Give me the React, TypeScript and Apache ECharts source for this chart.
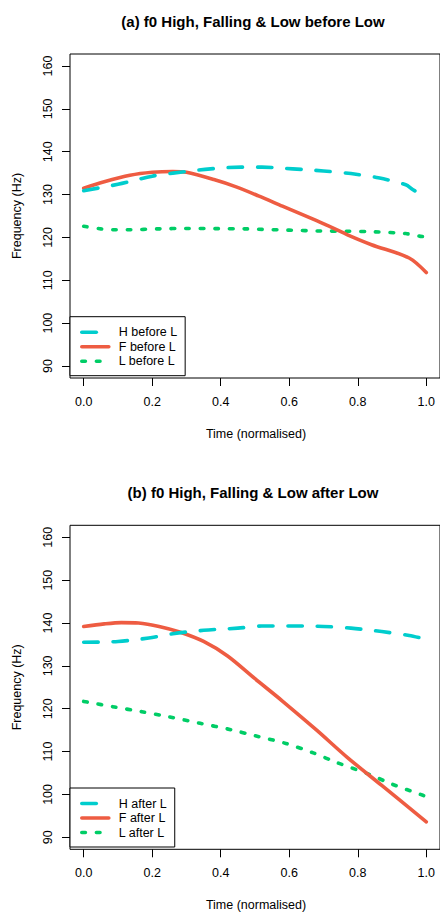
import React, { useEffect, useRef } from "react";
import * as echarts from "echarts";

// ---- data ----
const xTickValues = [0, 0.2, 0.4, 0.6, 0.8, 1.0];
const yTickValues = [90, 100, 110, 120, 130, 140, 150, 160];

const panelTitles = [
  "(a) f0 High, Falling & Low before Low",
  "(b) f0 High, Falling & Low after Low",
];
const xAxisTitle = "Time (normalised)";
const yAxisTitle = "Frequency (Hz)";

const namesBefore = ["H before L", "F before L", "L before L"];
const namesAfter = ["H after L", "F after L", "L after L"];

const hBeforeL = [
  [0, 130.9], [0.1, 132.4], [0.2, 134.3], [0.26, 135.0], [0.37, 136.0], [0.46, 136.4],
  [0.52, 136.4], [0.61, 136.0], [0.7, 135.5], [0.78, 134.9], [0.86, 133.9], [0.94, 132.3],
  [0.96, 131.2], [1.0, 129.3],
];
const fBeforeL = [
  [0, 131.5], [0.06, 133.0], [0.135, 134.5], [0.2, 135.2], [0.26, 135.4], [0.3, 135.2],
  [0.38, 133.5], [0.445, 131.8], [0.51, 129.7], [0.58, 127.3], [0.68, 123.9],
  [0.73, 122.1], [0.77, 120.6], [0.84, 118.3], [0.95, 115.2], [1.0, 111.8],
];
const lBeforeL = [
  [0, 122.6], [0.05, 122.0], [0.09, 121.8], [0.13, 121.8], [0.22, 122.0], [0.3, 122.1],
  [0.39, 122.05], [0.47, 122.0], [0.51, 121.9], [0.6, 121.7], [0.69, 121.5], [0.77, 121.45],
  [0.85, 121.3], [0.94, 120.9], [0.98, 120.3], [1.0, 120.1],
];

const hAfterL = [
  [0, 135.5], [0.1, 135.7], [0.19, 136.5], [0.26, 137.5], [0.35, 138.3], [0.45, 138.8],
  [0.52, 139.3], [0.61, 139.3], [0.7, 139.2], [0.78, 138.8], [0.87, 138.0], [0.95, 137.1],
  [1.0, 136.2],
];
const fAfterL = [
  [0, 139.2], [0.06, 139.8], [0.11, 140.1], [0.16, 140.0], [0.22, 139.2], [0.28, 137.9],
  [0.35, 135.7], [0.42, 132.3], [0.5, 127.0], [0.58, 121.8], [0.68, 115.0],
  [0.77, 108.6], [0.87, 102.1], [1.0, 93.6],
];
const lAfterL = [
  [0, 121.7], [0.09, 120.4], [0.17, 119.3], [0.25, 118.1], [0.34, 116.6], [0.43, 115.1],
  [0.5, 113.7], [0.59, 111.9], [0.67, 109.7], [0.74, 107.4], [0.83, 104.8], [0.9, 102.4],
  [0.99, 99.8], [1.0, 99.5],
];

// ---- styles ----
const FONT = '"Liberation Sans", Arial, Helvetica, sans-serif';
const colors = ["#00CDCD", "#EE5C42", "#00CD66"];
const dashes: any[] = [[14.5, 14.8], "solid", [3.6, 11]];
const LW = 3.6;

const PANEL_OFFSET = 471.3;
const GRID_LEFT = 70;
const GRID_TOP = 54;
const GRID_W = 372;
const GRID_H = 324;

export default function App() {
  const ref = useRef<HTMLDivElement>(null);

  useEffect(() => {
    if (!ref.current) return;
    const chart = echarts.init(ref.current, undefined, { renderer: "svg" });

    const panels = [
      { names: namesBefore, data: [hBeforeL, fBeforeL, lBeforeL] },
      { names: namesAfter, data: [hAfterL, fAfterL, lAfterL] },
    ];

    const grids: any[] = [];
    const xAxes: any[] = [];
    const yAxes: any[] = [];
    const series: any[] = [];
    const legends: any[] = [];
    const graphics: any[] = [];

    panels.forEach((p, i) => {
      const off = i * PANEL_OFFSET;
      grids.push({
        left: GRID_LEFT,
        top: GRID_TOP + off,
        width: GRID_W,
        height: GRID_H,
        show: true,
        borderColor: "#000",
        borderWidth: 1,
        backgroundColor: "transparent",
      });
      xAxes.push({
        type: "value",
        gridIndex: i,
        min: -0.04,
        max: 1.04,
        axisLine: { show: false, onZero: false },
        splitLine: { show: false },
        axisTick: {
          show: true,
          length: 8,
          customValues: xTickValues,
          lineStyle: { color: "#000", width: 1 },
        },
        axisLabel: {
          customValues: xTickValues,
          formatter: (v: number) => v.toFixed(1),
          margin: 17,
          fontSize: 12.5,
          fontFamily: FONT,
          color: "#000",
        },
      });
      yAxes.push({
        type: "value",
        gridIndex: i,
        min: 87.2,
        max: 162.8,
        axisLine: { show: false, onZero: false },
        splitLine: { show: false },
        axisTick: {
          show: true,
          length: 8,
          customValues: yTickValues,
          lineStyle: { color: "#000", width: 1 },
        },
        axisLabel: {
          customValues: yTickValues,
          rotate: 90,
          margin: 16,
          fontSize: 12.5,
          fontFamily: FONT,
          color: "#000",
        },
      });
      p.names.forEach((name, k) => {
        series.push({
          type: "line",
          name,
          xAxisIndex: i,
          yAxisIndex: i,
          data: p.data[k],
          symbol: "none",
          showSymbol: false,
          smooth: 0.3,
          color: colors[k],
          lineStyle: {
            color: colors[k],
            width: LW,
            type: dashes[k],
            cap: "round",
            join: "round",
          },
          z: 3 - k,
        });
      });
      legends.push({
        data: p.names,
        orient: "vertical",
        left: GRID_LEFT,
        top: 316.7 + off,
        padding: [9, 8, 8, 10],
        itemGap: 1.5,
        itemWidth: 27,
        itemHeight: 14,
        borderColor: "#000",
        borderWidth: 1,
        borderRadius: 0,
        backgroundColor: "#fff",
        selectedMode: false,
        itemStyle: { opacity: 0 },
        lineStyle: { width: LW, cap: "round" },
        textStyle: {
          fontSize: 12.5,
          fontFamily: FONT,
          color: "#000",
          padding: [0, 0, 0, 5],
        },
      });
      graphics.push(
        {
          type: "text",
          x: 253,
          y: 21 + off,
          style: {
            text: panelTitles[i],
            font: `bold 15px ${FONT}`,
            fill: "#000",
            textAlign: "center",
            textVerticalAlign: "middle",
          },
        },
        {
          type: "text",
          x: 256,
          y: 433.5 + off,
          style: {
            text: xAxisTitle,
            font: `12.5px ${FONT}`,
            fill: "#000",
            textAlign: "center",
            textVerticalAlign: "middle",
          },
        },
        {
          type: "text",
          x: 17,
          y: 216 + off,
          rotation: Math.PI / 2,
          style: {
            text: yAxisTitle,
            font: `12.5px ${FONT}`,
            fill: "#000",
            textAlign: "center",
            textVerticalAlign: "middle",
          },
        }
      );
    });

    chart.setOption({
      animation: false,
      backgroundColor: "#fff",
      grid: grids,
      xAxis: xAxes,
      yAxis: yAxes,
      series,
      legend: legends,
      graphic: graphics,
    });

    return () => chart.dispose();
  }, []);

  return (
    <div
      ref={ref}
      style={{ position: "absolute", left: 0, top: 0, width: 440, height: 912 }}
    />
  );
}
